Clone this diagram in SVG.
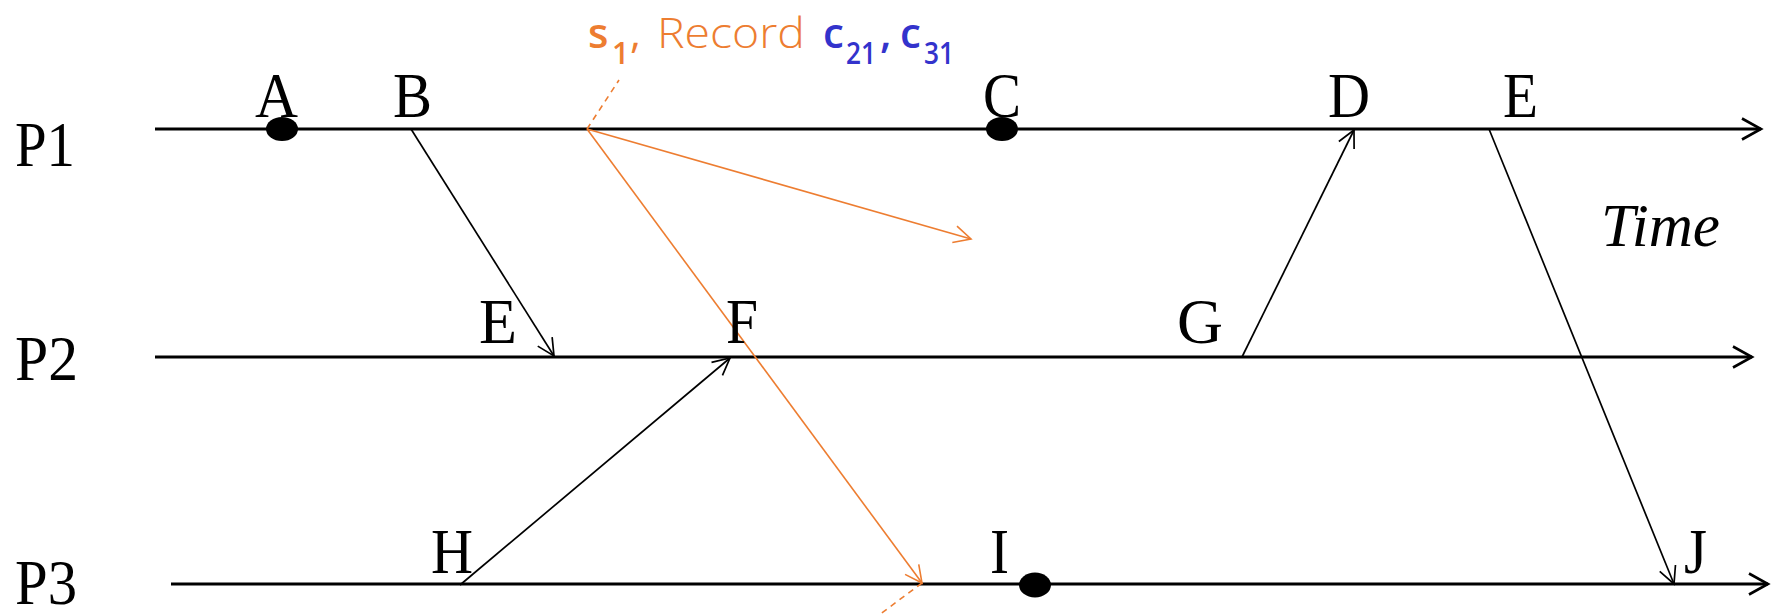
<svg xmlns="http://www.w3.org/2000/svg" width="1775" height="615" viewBox="0 0 1775 615">
  <style>
    .lbl { font-family: "Liberation Serif", "Times New Roman", serif; font-size: 64px; fill: #000; }
    .time { font-family: "Liberation Serif", "Times New Roman", serif; font-size: 62px; font-style: italic; fill: #000; }
    .tl { stroke: #000; stroke-width: 3; fill: none; }
    .msg { stroke: #000; stroke-width: 1.7; fill: none; }
    .snap { stroke: #ED7D31; stroke-width: 1.6; fill: none; }
    .snapdash { stroke: #ED7D31; stroke-width: 1.6; fill: none; stroke-dasharray: 6 5; }
    .dot { fill: #000; }
    .hdr { font-family: "Open Sans", "Liberation Sans", sans-serif; }
    .or { fill: #ED7D31; }
    .bl { fill: #3333CC; }
  </style>
  <defs>
    <marker id="arrTl" markerUnits="userSpaceOnUse" orient="auto" refX="0" refY="0" markerWidth="30" markerHeight="30" overflow="visible">
      <path d="M-19,-10.5 L0,0 L-19,10.5" stroke="#000" stroke-width="2.6" fill="none"/>
    </marker>
    <marker id="arrMsg" markerUnits="userSpaceOnUse" orient="auto" refX="0" refY="0" markerWidth="30" markerHeight="30" overflow="visible">
      <path d="M-17,-8.5 L0,0 L-17,8.5" stroke="#000" stroke-width="1.7" fill="none"/>
    </marker>
    <marker id="arrSnap" markerUnits="userSpaceOnUse" orient="auto" refX="0" refY="0" markerWidth="30" markerHeight="30" overflow="visible">
      <path d="M-17,-8.5 L0,0 L-17,8.5" stroke="#ED7D31" stroke-width="1.6" fill="none"/>
    </marker>
  </defs>

  <g id="P1">
    <line class="tl" x1="155" y1="129" x2="1761" y2="129" marker-end="url(#arrTl)"/>
    <text class="lbl" x="15" y="166" textLength="60" lengthAdjust="spacingAndGlyphs">P1</text>
  </g>
  <g id="P2">
    <line class="tl" x1="155" y1="357" x2="1752" y2="357" marker-end="url(#arrTl)"/>
    <text class="lbl" x="15" y="380" textLength="63" lengthAdjust="spacingAndGlyphs">P2</text>
  </g>
  <g id="P3">
    <line class="tl" x1="171" y1="584" x2="1768" y2="584" marker-end="url(#arrTl)"/>
    <text class="lbl" x="15" y="604" textLength="62" lengthAdjust="spacingAndGlyphs">P3</text>
  </g>

  <g id="connectors">
    <line class="msg" x1="411" y1="129" x2="554" y2="356" marker-end="url(#arrMsg)"/>
    <line class="msg" x1="460" y1="585" x2="730" y2="358" marker-end="url(#arrMsg)"/>
    <line class="msg" x1="1242" y1="357" x2="1354" y2="130" marker-end="url(#arrMsg)"/>
    <line class="msg" x1="1489" y1="129" x2="1674" y2="584" marker-end="url(#arrMsg)"/>
    <line class="snap" x1="587" y1="129" x2="971" y2="239" marker-end="url(#arrSnap)"/>
    <line class="snap" x1="587" y1="129" x2="922" y2="583" marker-end="url(#arrSnap)"/>
    <line class="snapdash" x1="587" y1="129" x2="619" y2="80"/>
    <line class="snapdash" x1="922" y1="583" x2="879" y2="615"/>
  </g>

  <g id="A">
    <text class="lbl" x="255" y="117" textLength="43" lengthAdjust="spacingAndGlyphs">A</text>
    <ellipse class="dot" cx="282" cy="129" rx="16" ry="12"/>
  </g>
  <g id="B"><text class="lbl" x="393" y="117" textLength="39" lengthAdjust="spacingAndGlyphs">B</text></g>
  <g id="C">
    <text class="lbl" x="983" y="117" textLength="38" lengthAdjust="spacingAndGlyphs">C</text>
    <ellipse class="dot" cx="1002" cy="129" rx="16" ry="12"/>
  </g>
  <g id="D"><text class="lbl" x="1328" y="117" textLength="42" lengthAdjust="spacingAndGlyphs">D</text></g>
  <g id="E1"><text class="lbl" x="1503" y="117" textLength="35" lengthAdjust="spacingAndGlyphs">E</text></g>
  <g id="E2"><text class="lbl" x="479" y="343" textLength="38" lengthAdjust="spacingAndGlyphs">E</text></g>
  <g id="F"><text class="lbl" x="726" y="343" textLength="32" lengthAdjust="spacingAndGlyphs">F</text></g>
  <g id="G"><text class="lbl" x="1177" y="343" textLength="46" lengthAdjust="spacingAndGlyphs">G</text></g>
  <g id="H"><text class="lbl" x="431" y="573" textLength="42" lengthAdjust="spacingAndGlyphs">H</text></g>
  <g id="I">
    <text class="lbl" x="990" y="573" textLength="19" lengthAdjust="spacingAndGlyphs">I</text>
    <ellipse class="dot" cx="1035" cy="585" rx="16" ry="12.5"/>
  </g>
  <g id="J"><text class="lbl" x="1684" y="573" textLength="23" lengthAdjust="spacingAndGlyphs">J</text></g>
  <g id="time"><text class="time" x="1601" y="246" textLength="119" lengthAdjust="spacingAndGlyphs">Time</text></g>

  <g id="snapshot-label" class="hdr">
    <text class="or" x="588" y="48" font-size="42" font-weight="600">s</text>
    <text class="or" x="612" y="64" font-size="30" font-weight="600">1</text>
    <text class="or" x="630" y="48" font-size="42">,</text>
    <text class="or" x="657" y="48" font-size="42" font-weight="300" textLength="148" lengthAdjust="spacingAndGlyphs">Record</text>
    <text class="bl" x="823" y="48" font-size="42" font-weight="600">c</text>
    <text class="bl" x="846" y="64" font-size="30" font-weight="600" textLength="30" lengthAdjust="spacingAndGlyphs">21</text>
    <text class="bl" x="880" y="48" font-size="42" font-weight="600">,</text>
    <text class="bl" x="900" y="48" font-size="42" font-weight="600">c</text>
    <text class="bl" x="924" y="64" font-size="30" font-weight="600" textLength="30" lengthAdjust="spacingAndGlyphs">31</text>
  </g>
</svg>
